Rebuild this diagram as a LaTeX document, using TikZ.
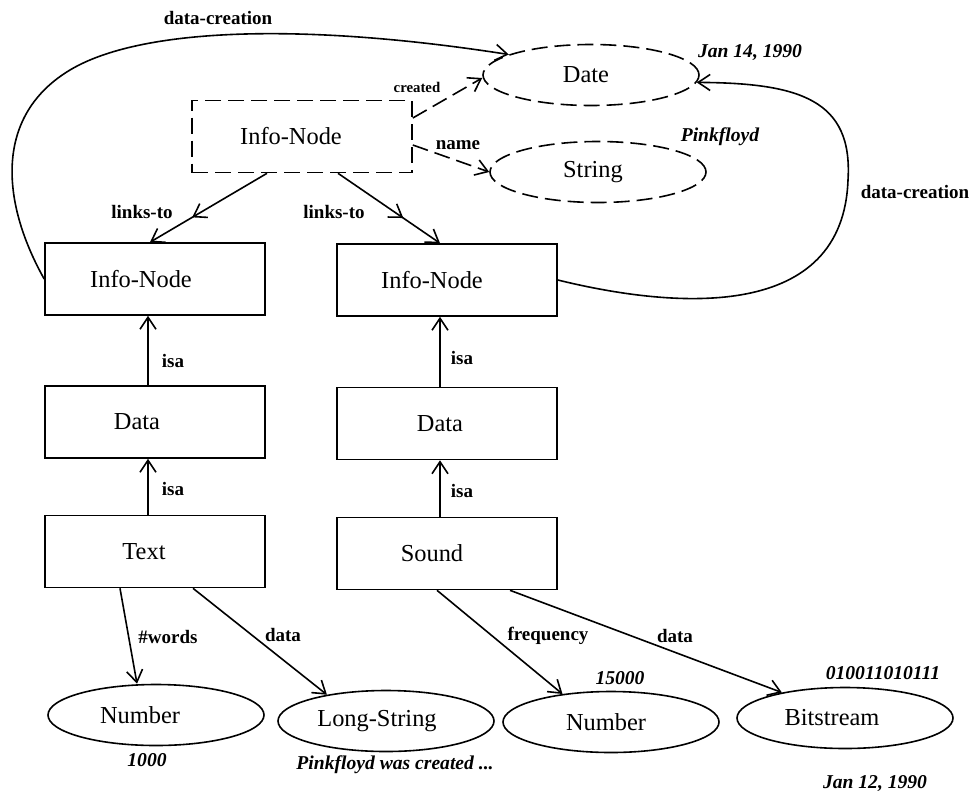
\documentclass[tikz,border=0pt]{standalone}
\usepackage{fontspec}
\setmainfont{Liberation Serif}
\usetikzlibrary{arrows.meta,shapes.geometric,decorations.markings}

% concept label set slightly left of the shape's centre
\newcommand\nudged[2][12pt]{#2\kern#1}

\begin{document}
\begin{tikzpicture}[x=0.5pt, y=-0.5pt, line width=0.8pt,
  conceptbox/.style={draw, rectangle, minimum width=110pt, minimum height=36pt,
    inner sep=0pt, font=\fontsize{12.2}{14}\selectfont},
  conceptoval/.style={draw, ellipse, minimum width=108pt, minimum height=30.5pt,
    inner sep=0pt, font=\fontsize{12.2}{14}\selectfont},
  dashline/.style={dash pattern=on 8pt off 3.5pt},
  relarrow/.style={-{Straight Barb[length=6pt,width=8pt]}},
  midtip/.style={postaction={decorate}, decoration={markings,
    mark=at position #1 with {\arrow{Straight Barb[length=6pt,width=8pt]}}}},
  rel/.style={inner sep=0pt, font=\bfseries\fontsize{9.5}{11}\selectfont},
  smallrel/.style={inner sep=0pt, font=\bfseries\fontsize{7.4}{9}\selectfont},
  value/.style={inner sep=0pt, font=\bfseries\itshape\fontsize{9.8}{11}\selectfont},
]
\fill[white] (0,0) rectangle (973,798);
\useasboundingbox (0,0) rectangle (973,798);

% concepts
\node[conceptbox, dashline] (top) at (302,136.5) {\nudged[11pt]{Info-Node}};
\node[conceptoval, dashline] (date) at (591,75) {\nudged[5pt]{Date}};
\node[conceptoval, dashline] (string) at (598,172) {\nudged[5pt]{String}};

\node[conceptbox] (in1) at (155,279) {\nudged[14pt]{Info-Node}};
\node[conceptbox] (in2) at (447,280) {\nudged[15pt]{Info-Node}};
\node[conceptbox] (d1) at (155,422) {\nudged[18pt]{Data}};
\node[conceptbox] (d2) at (447,423.5) {\nudged[7pt]{Data}};
\node[conceptbox] (t1) at (155,551.5) {\nudged[11pt]{Text}};
\node[conceptbox] (s2) at (447,553.5) {\nudged[15pt]{Sound}};

\node[conceptoval] (n1) at (156,715) {\nudged[16pt]{Number}};
\node[conceptoval] (ls) at (386,721) {\nudged[9pt]{Long-String}};
\node[conceptoval] (n2) at (611,722) {\nudged[5pt]{Number}};
\node[conceptoval] (bs) at (845,718) {\nudged[13pt]{Bitstream}};

% relations of the abstract info-node
\draw[relarrow, dashline] ([yshift=9.25pt]top.east) -- ([yshift=-1.5pt]date.west);
\draw[relarrow, dashline] ([yshift=-4.25pt]top.east) -- (string.west);
\draw[relarrow, midtip=0.64] ([xshift=-17.5pt]top.south) -- ([xshift=-2.5pt]in1.north);
\draw[relarrow, midtip=0.64] ([xshift=18pt]top.south) -- ([xshift=-3.5pt]in2.north);

% isa hierarchy
\draw[relarrow] ([xshift=-3.5pt]d1.north) -- ([xshift=-3.5pt]in1.south);
\draw[relarrow] ([xshift=-3.5pt]t1.north) -- ([xshift=-3.5pt]d1.south);
\draw[relarrow] ([xshift=-3.5pt]d2.north) -- ([xshift=-3.5pt]in2.south);
\draw[relarrow] ([xshift=-3.5pt]s2.north) -- ([xshift=-3.5pt]d2.south);

% attributes of the leaves
\draw[relarrow] ([xshift=-17.5pt]t1.south) -- ([xshift=-9.5pt]n1.north);
\draw[relarrow] ([xshift=19pt]t1.south) -- (ls.156);
\draw[relarrow] ([xshift=-5pt]s2.south) -- (n2.150);
\draw[relarrow] ([xshift=31.5pt]s2.south) -- (bs.158);

% data-creation links to the date
\draw[relarrow] (in1.west) .. controls (0,200) and (-5,115) .. (70,70)
  .. controls (140,28) and (300,22) .. (date.166);
\draw[relarrow] (in2.east) .. controls (680,310) and (843,320) .. (848,180)
  .. controls (853,100) and (800,83) .. (date.-4);

% relation labels
\node[rel] (lbl-dc1) at (218,18) {data-creation};
\node[rel] (lbl-dc2) at (915,192) {data-creation};
\node[smallrel] (lbl-created) at (417,87) {created};
\node[rel] (lbl-name) at (458,145) {name};
\node[rel] (lbl-links1) at (142,212) {links-to};
\node[rel] (lbl-links2) at (334,212) {links-to};
\node[rel] (lbl-isa1) at (173,361) {isa};
\node[rel] (lbl-isa2) at (173,489) {isa};
\node[rel] (lbl-isa3) at (462,358) {isa};
\node[rel] (lbl-isa4) at (462,491) {isa};
\node[rel] (lbl-words) at (168,637) {\#words};
\node[rel] (lbl-data1) at (283,635) {data};
\node[rel] (lbl-freq) at (548,636) {frequency};
\node[rel] (lbl-data2) at (675,636) {data};

% values
\node[value] (v-date1) at (750,52) {Jan 14, 1990};
\node[value] (v-name) at (720,137) {Pinkfloyd};
\node[value] (v-words) at (147,760) {1000};
\node[value] (v-text) at (395,765) {Pinkfloyd was created ...};
\node[value] (v-freq) at (620,678) {15000};
\node[value] (v-bits) at (883,673) {010011010111};
\node[value] (v-date2) at (875,783) {Jan 12, 1990};
\end{tikzpicture}
\end{document}
